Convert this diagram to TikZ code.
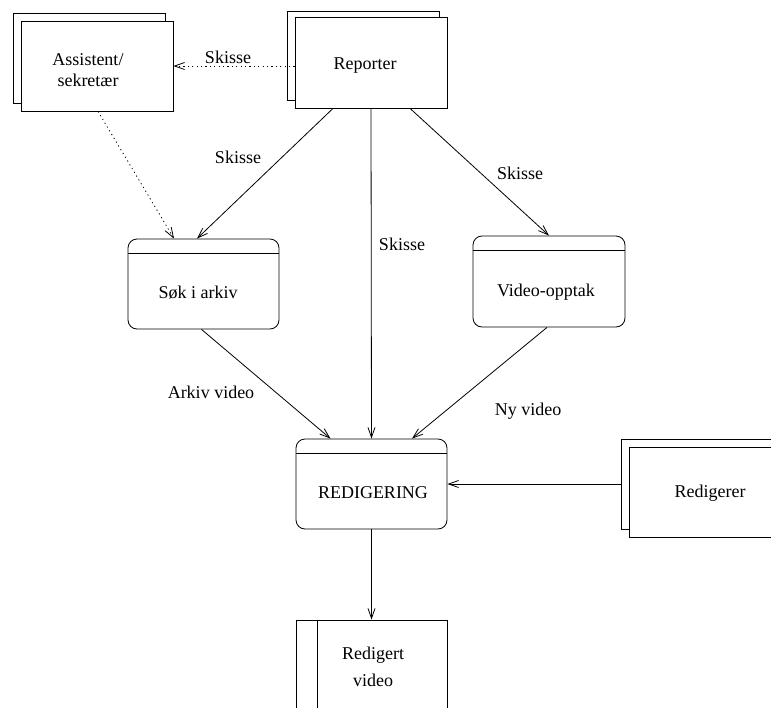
\documentclass[tikz,border=0pt]{standalone}
\usepackage{fontspec}
\setmainfont{Liberation Serif}
\usetikzlibrary{arrows.meta,calc}
\begin{document}
\begin{tikzpicture}[x=1pt,y=-1pt, line width=0.8pt,
  every node/.style={font=\fontsize{18}{21}\selectfont},
  entity/.style={draw, fill=white, rectangle, inner sep=0pt, minimum width=152pt, minimum height=90pt},
  process/.style={draw, fill=white, rounded corners=9pt, inner sep=0pt, minimum width=151pt, minimum height=90pt},
  store/.style={draw, fill=white, rectangle, inner sep=0pt, minimum width=151pt, minimum height=100pt},
  flow/.style={-{Straight Barb[length=10pt,width=7pt]}},
  dotflow/.style={flow, dash pattern=on 1.2pt off 3.2pt},
  lbl/.style={inner sep=0pt, align=center}]

\useasboundingbox (0,0) rectangle (771,707);
\clip (0,0) rectangle (771,707);

% external entities (stacked boxes)
\node[entity] (asstb) at (89.5,58) {};
\node[entity] (asst) at (97,66) {};
\node[lbl] (asstT) at (88,70) {Assistent/\\sekretær};

\node[entity, minimum height=89pt] (repb) at (363,55.5) {};
\node[entity, minimum height=91pt] (rep) at (371,62.5) {};
\node[lbl] (repT) at (365,66) {Reporter};

\node[entity, minimum width=169pt] (redgb) at (705.5,484) {};
\node[entity, minimum width=161pt] (redg) at (709.5,492) {};
\node[lbl] (redgT) at (710,493) {Redigerer};

% processes
\node[process] (sok) at (203.5,284) {};
\draw ($(sok.north west)+(0,15)$) -- ($(sok.north east)+(0,15)$);
\node[lbl] (sokT) at (198,293) {Søk i arkiv};

\node[process, minimum width=152pt, minimum height=91pt] (vid) at (549,281.5) {};
\draw ($(vid.north west)+(0,15)$) -- ($(vid.north east)+(0,15)$);
\node[lbl] (vidT) at (546,292) {Video-opptak};

\node[process] (red) at (371.5,484) {};
\draw ($(red.north west)+(0,15)$) -- ($(red.north east)+(0,15)$);
\node[lbl] (redT) at (373,493) {REDIGERING};

% data store
\node[store] (lager) at (371.5,670) {};
\draw ($(lager.north west)+(22,0)$) -- ($(lager.south west)+(22,0)$);
\node[lbl, font=\fontsize{18}{27}\selectfont] (lagerT) at (373,667) {Redigert\\video};

% flows
\draw[dotflow] (asst.east -| rep.west) -- (asst.east);
\node[lbl] (l1) at (228,57) {Skisse};

\draw[dotflow] ($(asst.south)+(1,0)$) -- ($(sok.north)+(-29.5,0)$);

\draw[flow] ($(rep.south)+(-38,0)$) -- ($(sok.north)+(-6.5,0)$);
\node[lbl] (l2) at (238,157) {Skisse};

\draw[flow] (rep.south) -- (red.north);
\node[lbl] (l3) at (402,244) {Skisse};

\draw[flow] ($(rep.south)+(39,0)$) -- (vid.north);
\node[lbl] (l4) at (520,173) {Skisse};

\draw[flow] ($(sok.south)+(-2,0)$) -- ($(red.north)+(-41,0)$);
\node[lbl] (l5) at (211,392) {Arkiv video};

\draw[flow] ($(vid.south)+(-2,0)$) -- ($(red.north)+(40.5,0)$);
\node[lbl] (l6) at (528,411) {Ny video};

\draw[flow] (redgb.west) -- (red.east);

\draw[flow] (red.south) -- (lager.north);
\end{tikzpicture}
\end{document}
